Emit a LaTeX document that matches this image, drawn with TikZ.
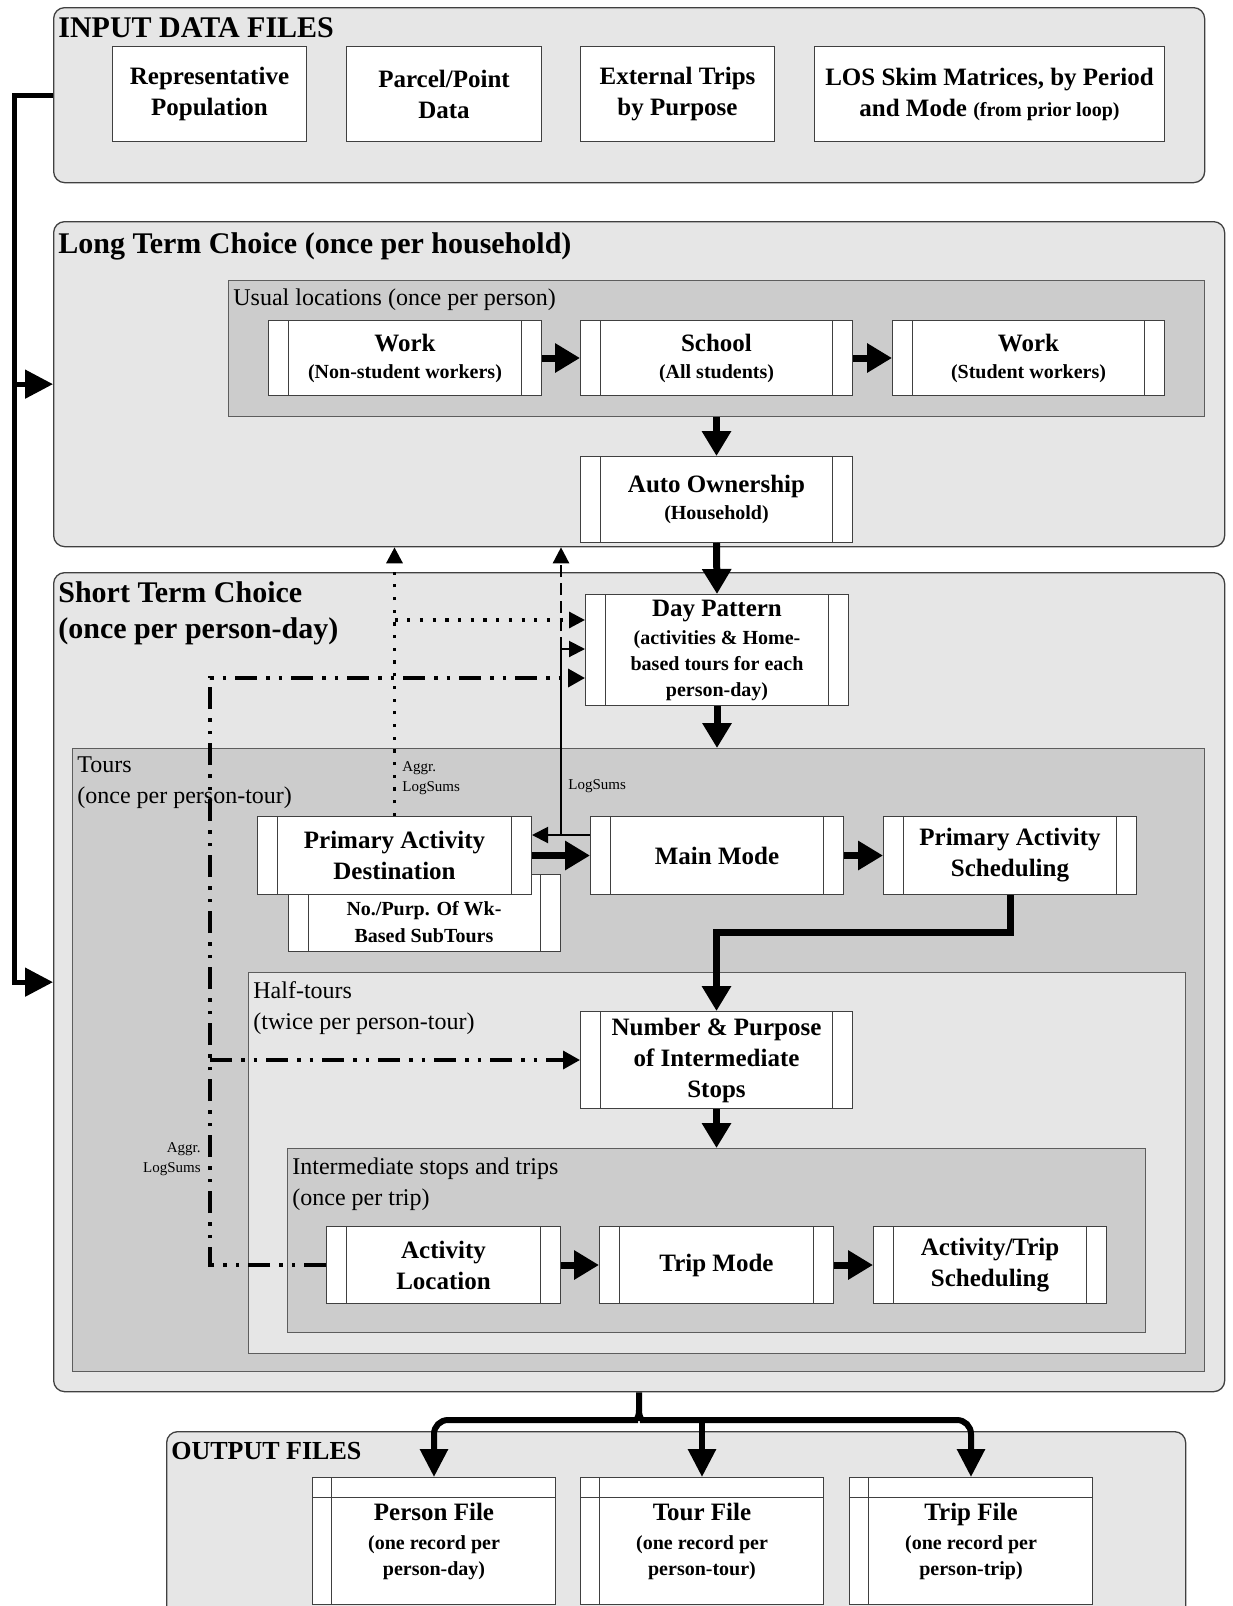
\documentclass[tikz,border=0pt]{standalone}
\usepackage{fontspec}
\setmainfont{Liberation Serif}
\usetikzlibrary{arrows.meta,calc}

\definecolor{panelbg}{RGB}{230,230,230}
\definecolor{panelmid}{RGB}{204,204,204}
\definecolor{edgegray}{RGB}{64,64,64}

\newcommand{\bxfont}{\bfseries\fontsize{25}{31}\selectfont}
\newcommand{\bxsub}{\fontsize{20}{27}\selectfont}
\newcommand{\ttlfont}{\bfseries\fontsize{30}{36}\selectfont}
\newcommand{\grpfont}{\fontsize{24}{31}\selectfont}
\newcommand{\notefont}{\fontsize{15}{20}\selectfont}

\tikzset{every picture/.style={line width=0.75pt}}
\tikzset{
  panel/.style={draw=edgegray, fill=panelbg, rounded corners=11pt, line width=1.3pt, anchor=north west, inner sep=0pt},
  subpanel/.style={draw=edgegray!85, fill=panelmid, line width=1.3pt, anchor=north west, inner sep=0pt},
  lightpanel/.style={subpanel, fill=panelbg},
  plainbox/.style={draw=edgegray, fill=white, line width=1pt, anchor=north west, inner sep=0pt, align=center, font=\bxfont},
  procbox/.style={plainbox, path picture={
    \draw[edgegray, line width=1pt]
      ($(path picture bounding box.north west)!20pt!(path picture bounding box.north east)$) --
      ($(path picture bounding box.south west)!20pt!(path picture bounding box.south east)$)
      ($(path picture bounding box.north east)!20pt!(path picture bounding box.north west)$) --
      ($(path picture bounding box.south east)!20pt!(path picture bounding box.south west)$);}},
  filebox/.style={plainbox, path picture={
    \draw[edgegray, line width=1pt]
      ($(path picture bounding box.north west)!19pt!(path picture bounding box.north east)$) --
      ($(path picture bounding box.south west)!19pt!(path picture bounding box.south east)$)
      ($(path picture bounding box.north west)!20pt!(path picture bounding box.south west)$) --
      ($(path picture bounding box.north east)!20pt!(path picture bounding box.south east)$);}},
  ttl/.style={inner sep=0pt, anchor=west, align=left, font=\ttlfont},
  grplabel/.style={inner sep=0pt, anchor=west, align=left, font=\grpfont},
  note/.style={inner sep=0pt, font=\notefont},
  flowarrow/.style={line width=7pt, -{Triangle[length=25pt,width=28pt]}},
  fbarrow/.style={line width=5pt, -{Triangle[length=28pt,width=28pt]}},
  thinarrow/.style={line width=2pt, -{Triangle[length=16pt,width=16pt]}},
  dotarrow/.style={thinarrow, line width=3.2pt, dash pattern=on 3.2pt off 9.5pt},
  dasharrow/.style={thinarrow, line width=2.5pt, dash pattern=on 12pt off 6pt},
  ddarrow/.style={line width=3.5pt, dash pattern=on 22pt off 9pt on 3.5pt off 9pt on 3.5pt off 9pt, -{Triangle[length=17pt,width=18pt]}},
  outarrow/.style={line width=6pt, -{Triangle[length=28pt,width=27pt]}}
}

\begin{document}
\begin{tikzpicture}[x=1pt,y=1pt,yscale=-1,xscale=1]
\useasboundingbox (0,0) rectangle (1232,1606);

%Shape: Panels
\node[panel, minimum width=1151, minimum height=175] (inbox) at (53,7) {};
\node[panel, minimum width=1171, minimum height=325] (ltc) at (53,221) {};
\node[panel, minimum width=1171, minimum height=819] (stc) at (53,572) {};
\node[panel, minimum width=1019, minimum height=200] (outbox) at (166,1431) {};
\node[subpanel, minimum width=976, minimum height=136] (usual) at (228,280) {};
\node[subpanel, minimum width=1132, minimum height=623] (tours) at (72,748) {};
\node[lightpanel, minimum width=937, minimum height=381] (half) at (248,972) {};
\node[subpanel, minimum width=858, minimum height=184] (inter) at (287,1148) {};

% Text Node
\node[ttl] (inboxT) at (58,28) {INPUT DATA FILES};
\node[ttl] (ltcT) at (58,246) {Long Term Choice (once per household)};
\node[ttl] (stcT) at (58,613) {Short Term Choice\\(once per person-day)};
\node[ttl, font=\bfseries\fontsize{26}{30}\selectfont] (outboxT) at (171,1451) {OUTPUT FILES};
\node[grplabel] (usualT) at (233,300) {Usual locations (once per person)};
\node[grplabel] (toursT) at (77,783) {Tours\\(once per person-tour)};
\node[grplabel] (halfT) at (253,1008) {Half-tours\\(twice per person-tour)};
\node[grplabel] (interT) at (292,1184) {Intermediate stops and trips\\(once per trip)};

%Shape: Input files
\node[plainbox, minimum width=194, minimum height=95] (rep) at (112,46) {Representative\\Population};
\node[plainbox, minimum width=195, minimum height=95] (parcel) at (346,46) {Parcel/Point\\Data};
\node[plainbox, minimum width=194, minimum height=95] (ext) at (580,46) {External Trips\\by Purpose};
\node[plainbox, minimum width=350, minimum height=95] (los) at (814,46) {LOS Skim Matrices, by Period\\and Mode {\bxsub(from prior loop)}};

%Shape: Long term models
\node[procbox, minimum width=273, minimum height=75] (work1) at (268,320) {Work\\[-4pt]{\bxsub(Non-student workers)}};
\node[procbox, minimum width=272, minimum height=75] (school) at (580,320) {School\\[-4pt]{\bxsub(All students)}};
\node[procbox, minimum width=272, minimum height=75] (work2) at (892,320) {Work\\[-4pt]{\bxsub(Student workers)}};
\node[procbox, minimum width=272, minimum height=86] (auto) at (580,456) {Auto Ownership\\[-4pt]{\bxsub(Household)}};

%Shape: Short term models
\node[procbox, minimum width=263, minimum height=111] (daypat) at (585,594) {Day Pattern\\[-3pt]{\bxsub(activities \& Home-}\\[-5pt]{\bxsub based tours for each}\\[-5pt]{\bxsub person-day)}};
\node[procbox, minimum width=272, minimum height=77] (subtour) at (288,874) {};
\node[inner sep=0pt, align=center, font=\bxfont] (subtourT) at (424,922) {\bxsub No./Purp. Of Wk-\\[-4pt]\bxsub Based SubTours};
\node[procbox, minimum width=274, minimum height=78] (pad) at (257,816) {Primary Activity\\Destination};
\node[procbox, minimum width=253, minimum height=78] (mainmode) at (590,816) {Main Mode};
\node[procbox, minimum width=253, minimum height=78] (pas) at (883,816) {Primary Activity\\Scheduling};
\node[procbox, minimum width=272, minimum height=97] (np) at (580,1011) {Number \& Purpose\\of Intermediate\\Stops};
\node[procbox, minimum width=234, minimum height=77] (al) at (326,1226) {Activity\\Location};
\node[procbox, minimum width=234, minimum height=77] (tm) at (599,1226) {Trip Mode};
\node[procbox, minimum width=233, minimum height=77] (ats) at (873,1226) {Activity/Trip\\Scheduling};

%Shape: Output files
\node[filebox, minimum width=243, minimum height=127] (person) at (312,1477) {Person File\\[-2pt]{\bxsub(one record per}\\[-5pt]{\bxsub person-day)}};
\node[filebox, minimum width=243, minimum height=127] (tour) at (580,1477) {Tour File\\[-2pt]{\bxsub(one record per}\\[-5pt]{\bxsub person-tour)}};
\node[filebox, minimum width=243, minimum height=127] (trip) at (849,1477) {Trip File\\[-2pt]{\bxsub(one record per}\\[-5pt]{\bxsub person-trip)}};

%Straight Lines: feedback
\coordinate (fbx) at (14,600);
\draw[fbarrow] (inbox.west) -- (inbox.west -| fbx) |- (stc.west);
\draw[fbarrow] (ltc.west -| fbx) -- (ltc.west);

%Straight Lines: main flow
\draw[flowarrow] (work1.east) -- (school.west);
\draw[flowarrow] (school.east) -- (work2.west);
\draw[flowarrow] (auto.north |- usual.south) -- (auto.north);
\draw[flowarrow] (auto.south) -- (daypat.north);
\draw[flowarrow] (daypat.south) -- (daypat.south |- tours.north);
\draw[flowarrow] (pad.east) -- (mainmode.west);
\draw[flowarrow] (mainmode.east) -- (pas.west);
\draw[flowarrow] (pas.south) -- (pas.south |- 0,932) -| (np.north);
\draw[flowarrow] (np.south) -- (np.south |- inter.north);
\draw[flowarrow] (al.east) -- (tm.west);
\draw[flowarrow] (tm.east) -- (ats.west);

%Straight Lines: logsums
\coordinate (lsjoin) at (561,835);
\draw[thinarrow] (lsjoin -| mainmode.west) -- (lsjoin) |- (daypat.west |- 0,649);
\draw[thinarrow] (lsjoin) -- (lsjoin -| pad.east);
\draw[dasharrow] (lsjoin |- 0,649) -- (lsjoin |- ltc.south);
\draw[dotarrow] (pad.north) -- (pad.north |- ltc.south);
\draw[dotarrow] (pad.north |- 0,620) -- (daypat.west |- 0,620);
\coordinate (ddx) at (210,1060);
\draw[ddarrow] (al.west) -| (ddx |- 0,678) -- (daypat.west |- 0,678);
\draw[ddarrow] (ddx |- np.west) -- (np.west);

% Text Node
\node[note, anchor=west, align=left] (aggr1) at (402,778) {Aggr.\\LogSums};
\node[note, anchor=west] (logs) at (568,786) {LogSums};
\node[note, anchor=east, align=right] (aggr2) at (201,1159) {Aggr.\\LogSums};

%Straight Lines: outputs
\coordinate (brace) at (639,1410);
\draw[line width=6pt] (stc.south) -- (brace);
\draw[outarrow, rounded corners=14pt] (brace) .. controls (639,1420) and (634,1420) .. (624,1420) -- (person.north |- 0,1420) -- (person.north);
\draw[outarrow, rounded corners=14pt] (brace) .. controls (639,1420) and (644,1420) .. (654,1420) -- (trip.north |- 0,1420) -- (trip.north);
\draw[outarrow] (tour.north |- 0,1420) -- (tour.north);

\end{tikzpicture}
\end{document}
